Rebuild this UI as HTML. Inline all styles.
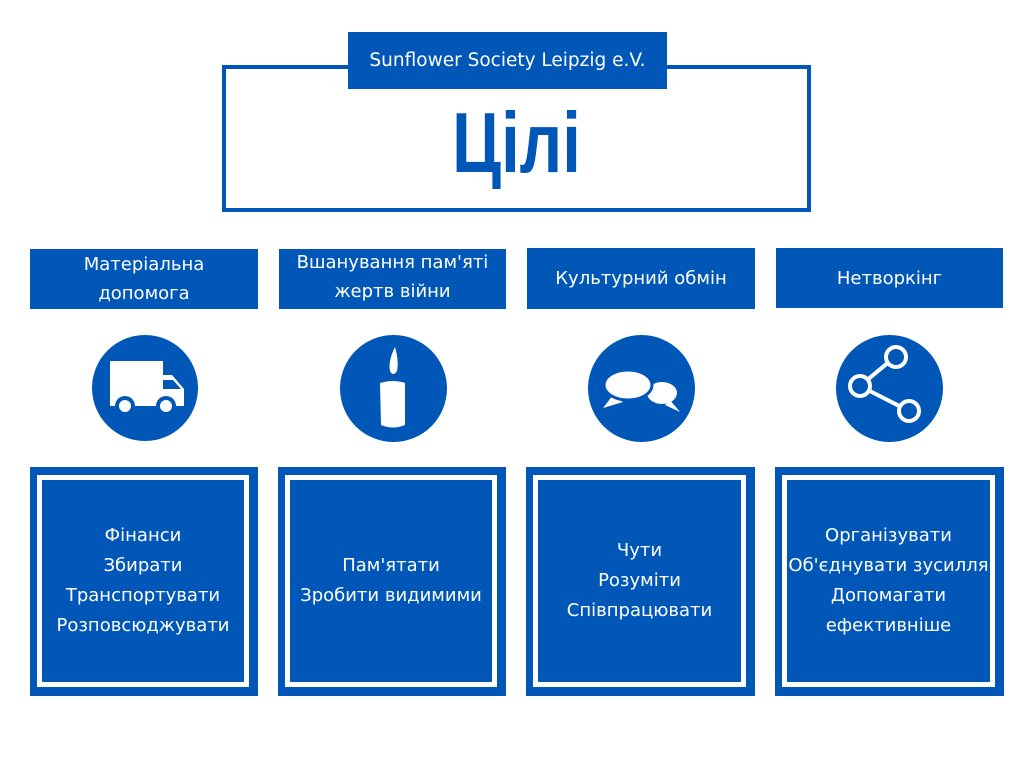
<!DOCTYPE html>
<html><head><meta charset="utf-8"><style>
body{margin:0;width:1024px;height:768px;background:#fff;position:relative;overflow:hidden;font-family:"DejaVu Sans","Liberation Sans",sans-serif;color:#fff}
.a{position:absolute;box-sizing:border-box}
.b{background:#0057b8}
.hd{display:flex;align-items:center;justify-content:center;text-align:center;font-size:18px;line-height:29px}
.bx{background:#0057b8}
.bx .w{position:absolute;left:7px;top:8px;right:9px;bottom:9px;border:5px solid #fff;display:flex;align-items:center;justify-content:center;text-align:center;font-size:18px;line-height:30px;white-space:nowrap}
.c{border-radius:50%}
</style></head><body>
<div class="a" style="left:222px;top:65px;width:589px;height:147px;border:4px solid #0057b8"></div>
<div class="a b hd" style="left:348px;top:32px;width:319px;height:57px;font-size:18.5px">Sunflower Society Leipzig e.V.</div>
<div class="a" style="left:222px;top:104px;width:589px;text-align:center;color:#0057b8;font-weight:bold;font-family:'Liberation Sans',sans-serif;font-size:67px;line-height:80px;transform:scaleY(1.28);transform-origin:50% 50%">Цілі</div>

<div class="a b hd" style="left:30px;top:249px;width:228px;height:60px">Матеріальна<br>допомога</div>
<div class="a b hd" style="left:279px;top:249px;width:227px;height:60px;padding-bottom:4px">Вшанування пам'яті<br>жертв війни</div>
<div class="a b hd" style="left:527px;top:248px;width:228px;height:61px">Культурний обмін</div>
<div class="a b hd" style="left:776px;top:248px;width:227px;height:60px">Нетворкінг</div>

<div class="a b c" style="left:92px;top:335px;width:106px;height:106px"></div>
<div class="a b c" style="left:340px;top:335px;width:107px;height:107px"></div>
<div class="a b c" style="left:588px;top:335px;width:107px;height:107px"></div>
<div class="a b c" style="left:836px;top:335px;width:107px;height:107px"></div>

<svg class="a" style="left:0;top:0" width="1024" height="768">
<g fill="#fff">
<path d="M110,361 h53 v14 h9 l12,14 v17 h-74 z" />
<path d="M163,380 h10 l8,9 h-18 z" fill="#0057b8"/>
<circle cx="125" cy="406" r="10" fill="#0057b8"/><circle cx="125" cy="406" r="6"/>
<circle cx="166" cy="406" r="10" fill="#0057b8"/><circle cx="166" cy="406" r="6"/>
<path d="M380,383 q13,-4 25,0 v42 q-12,5 -24,0 z"/>
<path d="M395,347 q-7,14 -5,24 q3,6 7,0 q2,-10 -2,-24 z"/>
<ellipse cx="628" cy="385" rx="24" ry="15"/>
<path d="M613,395 l-10,13 l20,-6 z"/>
<ellipse cx="662" cy="393" rx="15" ry="11"/>
<path d="M670,400 l10,12 l-15,-7 z"/>
</g>
<ellipse cx="628" cy="385" rx="24" ry="15" fill="#fff" stroke="#0057b8" stroke-width="3"/>
<g stroke="#fff" stroke-width="4" fill="none">
<line x1="860" y1="386" x2="896" y2="356"/><line x1="860" y1="386" x2="909" y2="411"/>
<circle cx="860" cy="386" r="10" fill="#0057b8"/>
<circle cx="896" cy="357" r="10" fill="#0057b8"/>
<circle cx="909" cy="411" r="10" fill="#0057b8"/>
</g>
</svg>

<div class="a bx" style="left:30px;top:467px;width:228px;height:229px"><div class="w">Фінанси<br>Збирати<br>Транспортувати<br>Розповсюджувати</div></div>
<div class="a bx" style="left:278px;top:467px;width:228px;height:229px"><div class="w">Пам'ятати<br>Зробити видимими</div></div>
<div class="a bx" style="left:526px;top:467px;width:229px;height:229px"><div class="w">Чути<br>Розуміти<br>Співпрацювати</div></div>
<div class="a bx" style="left:775px;top:467px;width:229px;height:229px"><div class="w">Організувати<br>Об'єднувати зусилля<br>Допомагати<br>ефективніше</div></div>
</body></html>
